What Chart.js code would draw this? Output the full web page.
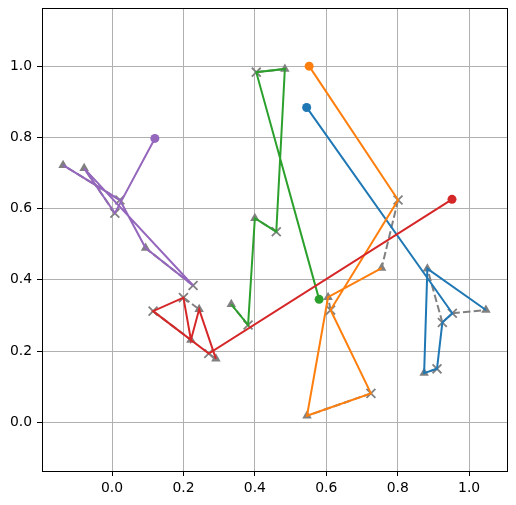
<!DOCTYPE html>
<html lang="en">
<head>
    <meta charset="UTF-8">
    <title>Paths</title>
    <script src="https://cdn.jsdelivr.net/npm/chart.js"></script>
    <style>
        body { margin: 0; background: #fff; }
    </style>
</head>
<body>
<canvas id="pathChart" width="516" height="505"></canvas>
<script>
    // each path: start (o), then points marked x or ^, in drawing order
    const blueX = [0.545, 0.953, 0.925, 0.910, 0.874, 0.883, 1.047];
    const blueY = [0.884, 0.306, 0.280, 0.150, 0.138, 0.431, 0.315];
    const blueMarks = ['o', 'x', 'x', 'x', '^', '^', '^'];
    const bluePairs = [[1, 6], [2, 5], [3, 4]];

    const orangeX = [0.552, 0.801, 0.612, 0.725, 0.546, 0.605, 0.755];
    const orangeY = [1.000, 0.624, 0.315, 0.081, 0.018, 0.351, 0.433];
    const orangeMarks = ['o', 'x', 'x', 'x', '^', '^', '^'];
    const orangePairs = [[1, 6], [2, 5], [3, 4]];

    const greenX = [0.580, 0.404, 0.484, 0.460, 0.400, 0.381, 0.334];
    const greenY = [0.345, 0.983, 0.992, 0.535, 0.573, 0.273, 0.331];
    const greenMarks = ['o', 'x', '^', 'x', '^', 'x', '^'];
    const greenPairs = [[1, 2], [3, 4], [5, 6]];

    const redX = [0.952, 0.271, 0.115, 0.200, 0.221, 0.244, 0.291];
    const redY = [0.626, 0.193, 0.312, 0.350, 0.231, 0.317, 0.178];
    const redMarks = ['o', 'x', 'x', 'x', '^', '^', '^'];
    const redPairs = [[1, 6], [2, 4], [3, 5]];

    const purpleX = [0.120, 0.008, -0.078, 0.227, 0.094, 0.022, -0.137];
    const purpleY = [0.797, 0.587, 0.713, 0.384, 0.489, 0.624, 0.722];
    const purpleMarks = ['o', 'x', '^', 'x', '^', 'x', '^'];
    const purplePairs = [[1, 2], [3, 4], [5, 6]];

    const xTicks = [0.0, 0.2, 0.4, 0.6, 0.8, 1.0];
    const yTicks = [0.0, 0.2, 0.4, 0.6, 0.8, 1.0];

    const paths = [
        { xs: blueX, ys: blueY, marks: blueMarks, pairs: bluePairs, color: '#1f77b4' },
        { xs: orangeX, ys: orangeY, marks: orangeMarks, pairs: orangePairs, color: '#ff7f0e' },
        { xs: greenX, ys: greenY, marks: greenMarks, pairs: greenPairs, color: '#2ca02c' },
        { xs: redX, ys: redY, marks: redMarks, pairs: redPairs, color: '#d62728' },
        { xs: purpleX, ys: purpleY, marks: purpleMarks, pairs: purplePairs, color: '#9467bd' }
    ];

    const toPoints = (xs, ys) => xs.map((x, i) => ({ x: x, y: ys[i] }));
    const gray = '#808080';

    const datasets = [];
    const crosses = [];
    const triangles = [];

    paths.forEach((p, k) => {
        // coloured path, start marker only; later paths sit on top
        datasets.push({
            data: toPoints(p.xs, p.ys),
            showLine: true,
            borderColor: p.color,
            backgroundColor: p.color,
            borderWidth: 2,
            pointRadius: (c) => c.dataIndex === 0 ? 4.5 : 0,
            pointBorderWidth: 0,
            pointHoverRadius: 0,
            order: 4 - k
        });
        p.marks.forEach((m, i) => {
            if (m === 'x') crosses.push({ x: p.xs[i], y: p.ys[i] });
            if (m === '^') triangles.push({ x: p.xs[i], y: p.ys[i] });
        });
        p.pairs.forEach(([a, b]) => {
            datasets.push({
                data: [{ x: p.xs[a], y: p.ys[a] }, { x: p.xs[b], y: p.ys[b] }],
                showLine: true,
                borderColor: gray,
                borderWidth: 2,
                borderDash: [7.5, 3.2],
                pointRadius: 0,
                order: 10
            });
        });
    });

    datasets.push({
        data: crosses,
        pointStyle: 'crossRot',
        pointRadius: 6.3,
        pointBorderColor: gray,
        pointBorderWidth: 1.8,
        pointBackgroundColor: gray,
        order: 8
    });
    datasets.push({
        data: triangles,
        pointStyle: 'triangle',
        pointRadius: 5.5,
        pointBorderWidth: 0,
        pointBackgroundColor: gray,
        order: 9
    });

    const framePlugin = {
        id: 'frame',
        afterDraw(chart) {
            const { ctx, chartArea: a } = chart;
            const l = Math.round(a.left), t = Math.round(a.top);
            const r = Math.round(a.right), b = Math.round(a.bottom);
            ctx.save();
            ctx.strokeStyle = '#000';
            ctx.lineWidth = 1;
            ctx.strokeRect(l + 0.5, t + 0.5, r - l, b - t);
            ctx.restore();
        }
    };

    Chart.defaults.font.family = 'DejaVu Sans';
    Chart.defaults.font.size = 13.9;
    Chart.defaults.color = '#000';

    const axisGrid = {
        color: '#b0b0b0',
        lineWidth: 1,
        tickColor: '#000',
        tickLength: 5,
        drawTicks: true
    };

    // drop the label overflow padding so the plot box sits where it should
    const noPad = (s) => {
        s.paddingTop = 0; s.paddingBottom = 0;
        s.paddingLeft = 0; s.paddingRight = 0;
    };

    new Chart(document.getElementById('pathChart'), {
        type: 'scatter',
        data: { datasets: datasets },
        options: {
            responsive: false,
            animation: false,
            layout: { padding: { top: 8, right: 9, left: 0, bottom: 0 } },
            plugins: { legend: { display: false }, tooltip: { enabled: false } },
            events: [],
            scales: {
                x: {
                    type: 'linear',
                    min: -0.196,
                    max: 1.106,
                    grid: axisGrid,
                    border: { color: '#000', width: 1 },
                    afterBuildTicks: (s) => { s.ticks = xTicks.map(v => ({ value: v })); },
                    afterFit: (s) => { s.height = 34; noPad(s); },
                    ticks: { padding: 4, callback: (v) => Number(v).toFixed(1) }
                },
                y: {
                    type: 'linear',
                    min: -0.137,
                    max: 1.163,
                    grid: axisGrid,
                    border: { color: '#000', width: 1 },
                    afterBuildTicks: (s) => { s.ticks = yTicks.map(v => ({ value: v })); },
                    afterFit: (s) => { s.width = 42; noPad(s); },
                    ticks: { padding: 5, callback: (v) => Number(v).toFixed(1) }
                }
            }
        },
        plugins: [framePlugin]
    });
</script>
</body>
</html>
